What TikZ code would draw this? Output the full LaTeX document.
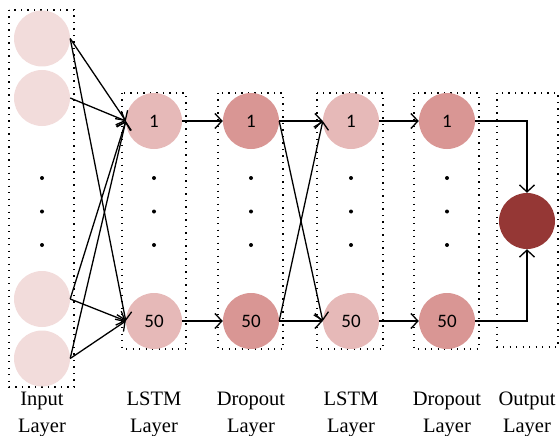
\documentclass[tikz,border=0pt]{standalone}
\usepackage{fontspec}
\setmainfont{Liberation Serif}
\newfontfamily\numfont{Carlito}
\usetikzlibrary{arrows.meta}

\definecolor{inputc}{HTML}{F2DCDB}
\definecolor{lstmc}{HTML}{E6B9B8}
\definecolor{dropc}{HTML}{D99694}
\definecolor{outc}{HTML}{953735}

\tikzset{
  unit/.style={circle, minimum size=56pt, inner sep=0pt, font=\numfont\fontsize{19}{20}\selectfont},
  inunit/.style={unit, fill=inputc},
  lstmunit/.style={unit, fill=lstmc},
  dropunit/.style={unit, fill=dropc},
  outunit/.style={unit, fill=outc},
  layerbox/.style={draw=black, line width=1.3pt, dash pattern=on 1.3pt off 5.2pt},
  arr/.style={line width=1.3pt, -{Straight Barb[length=7pt,width=15pt,line width=1.3pt]}},
  lbl/.style={align=center, font=\fontsize{20.5}{27}\selectfont, inner sep=0pt, anchor=base},
  ell/.style={fill=black},
}

\begin{document}
\begin{tikzpicture}[x=1pt,y=-1pt]
\useasboundingbox (0,0) rectangle (560,436);

% layer frames
\draw[layerbox] (9,10) rectangle (74,387);
\draw[layerbox] (122,93) rectangle (186,349);
\draw[layerbox] (218,93) rectangle (283,349);
\draw[layerbox] (317,93) rectangle (383,349);
\draw[layerbox] (414,93) rectangle (479,349);
\draw[layerbox] (497,93) rectangle (558,347);

% input layer
\node[inunit] (in1) at (42,38.5) {};
\node[inunit] (in2) at (42,98) {};
\node[inunit] (in3) at (42,299) {};
\node[inunit] (in4) at (42,358.5) {};

% hidden layers
\node[lstmunit] (l1a) at (154,121) {1};
\node[lstmunit] (l1b) at (154,321) {50};
\node[dropunit] (d1a) at (251,121) {1};
\node[dropunit] (d1b) at (251,321) {50};
\node[lstmunit] (l2a) at (351,121) {1};
\node[lstmunit] (l2b) at (351,321) {50};
\node[dropunit] (d2a) at (447,121) {1};
\node[dropunit] (d2b) at (447,321) {50};

% output layer
\node[outunit] (out) at (527,221) {};

% vertical ellipses
\foreach \x in {42,154,251,351,447}
  \foreach \y in {178,211.5,245}
    \fill[ell] (\x,\y) circle (2pt);

% connections
\foreach \s in {in1,in2,in3,in4}
  \draw[arr] (\s.east) -- (l1a.west);
\foreach \s in {in1,in3,in4}
  \draw[arr] (\s.east) -- (l1b.west);
\draw[arr] (l1a.east) -- (d1a.west);
\draw[arr] (l1b.east) -- (d1b.west);
\draw[arr] (d1a.east) -- (l2a.west);
\draw[arr] (d1b.east) -- (l2b.west);
\draw[arr] (d1a.east) -- (l2b.west);
\draw[arr] (d1b.east) -- (l2a.west);
\draw[arr] (l2a.east) -- (d2a.west);
\draw[arr] (l2b.east) -- (d2b.west);
\draw[arr] (d2a.east) -| (out.north);
\draw[arr] (d2b.east) -| (out.south);

% layer captions
\node[lbl] (t1) at (42,432) {Input\\Layer};
\node[lbl] (t2) at (154,432) {LSTM\\Layer};
\node[lbl] (t3) at (251,432) {Dropout\\Layer};
\node[lbl] (t4) at (351,432) {LSTM\\Layer};
\node[lbl] (t5) at (447,432) {Dropout\\Layer};
\node[lbl] (t6) at (527,432) {Output\\Layer};
\end{tikzpicture}
\end{document}
